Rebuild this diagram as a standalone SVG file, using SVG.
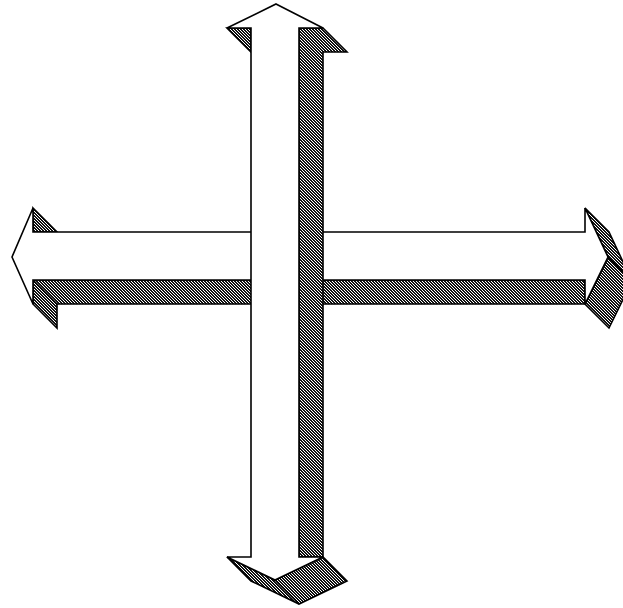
<svg xmlns="http://www.w3.org/2000/svg" width="623" height="608" viewBox="0 0 623 608">
  <defs>
    <pattern id="hatch" width="3" height="3" patternUnits="userSpaceOnUse">
      <rect width="3" height="3" fill="#111"/>
      <rect x="0" y="0" width="1" height="1" fill="#fff"/>
      <rect x="1" y="1" width="1" height="1" fill="#fff"/>
      <rect x="2" y="2" width="1" height="1" fill="#fff"/>
    </pattern>
  </defs>
  <style>
    .side { fill: url(#hatch); stroke: #000; stroke-width: 1.6; stroke-linejoin: miter; }
    .front { fill: #fff; stroke: #000; stroke-width: 1.6; stroke-linejoin: miter; }
    .edge { fill: none; stroke: #000; stroke-width: 1.6; }
  </style>
  <rect width="623" height="608" fill="#fff"/>
  <g id="arrow-horizontal">
    <polygon class="side" points="33,208 57,232 33,232"/>
    <polygon class="side" points="33,280 585,280 585,304 57,304 57,328 33,304"/>
    <line class="edge" x1="33" y1="280" x2="57" y2="304"/>
    <polygon class="side" points="585,208 609,232 632,281 609,328 585,304 608,257"/>
    <line class="edge" x1="608" y1="257" x2="632" y2="281"/>
    <polygon class="front" points="12,257 33,208 33,232 585,232 585,208 608,257 585,304 585,280 33,280 33,304"/>
  </g>
  <g id="arrow-vertical">
    <polygon class="side" points="227,28 251,28 251,52"/>
    <polygon class="side" points="299,28 323,28 347,52 323,52 323,557 299,557"/>
    <polygon class="side" points="227,557 251,581 299,604 347,581 323,557 275,580"/>
    <line class="edge" x1="275" y1="580" x2="299" y2="604"/>
    <polygon class="front" points="276,4 323,28 299,28 299,557 323,557 275,580 227,557 251,557 251,28 227,28"/>
  </g>
</svg>
